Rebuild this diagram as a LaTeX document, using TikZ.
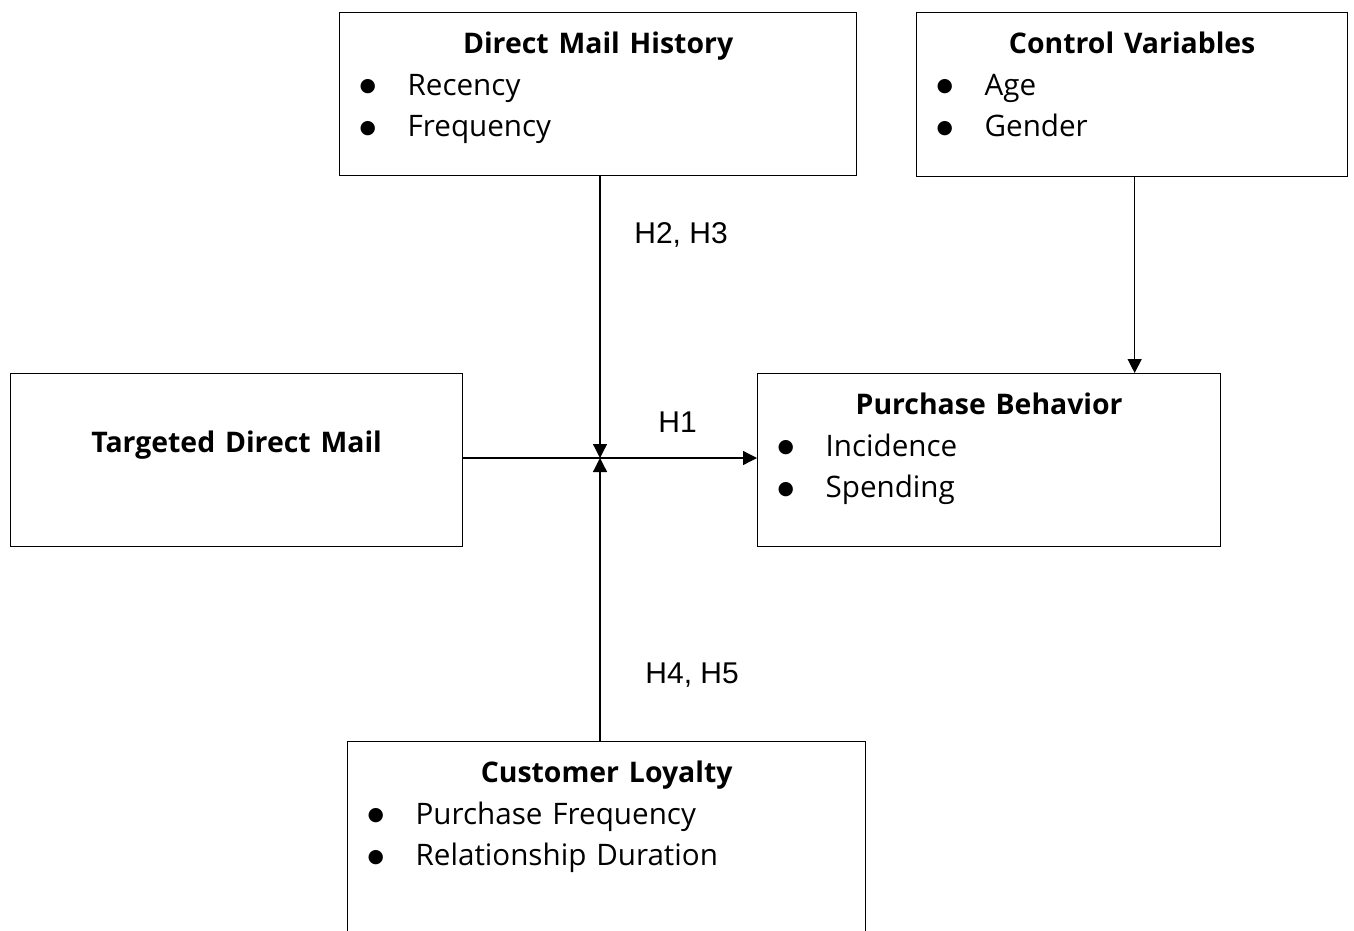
\documentclass[tikz,border=0pt]{standalone}
\usepackage{fontspec}
\setmainfont{Open Sans}
\newfontfamily\hypfont{Liberation Sans}
\newfontfamily\symfont{DejaVu Sans}
\usetikzlibrary{arrows.meta, positioning, calc}

% bullet, then the item text starts 34pt in from the box edge
\newcommand{\blt}{\makebox[34pt][l]{\hspace{10pt}\raisebox{1.7pt}{\symfont\fontsize{9.4pt}{9.4pt}\selectfont ●}}}
\newcommand{\ttl}[1]{{\centering\fontsize{14.2pt}{20.75pt}\selectfont\bfseries #1\par}}

\begin{document}
\begin{tikzpicture}[
  x=0.5pt, y=-0.5pt,
  font=\fontsize{14.8pt}{20.75pt}\selectfont,
  >={Triangle[length=7pt, width=7pt]},
  box/.style={draw, line width=0.65pt, inner sep=0pt, align=left, anchor=north west, text height=20.5pt},
  lbl/.style={font=\hypfont\fontsize{15pt}{16pt}\selectfont, inner sep=0pt, anchor=base west},
  arr/.style={->, line width=0.65pt},
]
\useasboundingbox (0,0) rectangle (1354,931);

\node[box, text width=258.5pt, text depth=61pt] (dmh) at (339,12)
  {\ttl{Direct Mail History}\blt Recency\par\blt Frequency};
\node[box, text width=215.5pt, text depth=61.5pt] (cv) at (916,12)
  {\ttl{Control Variables}\blt Age\par\blt Gender};
\node[box, text width=226pt, text height=39.5pt, text depth=47pt] (tdm) at (10,373)
  {\ttl{Targeted Direct Mail}};
\node[box, text width=231.5pt, text depth=66pt] (pb) at (757,373)
  {\ttl{Purchase Behavior}\blt Incidence\par\blt Spending};
\node[box, text width=259pt, text depth=80pt] (cl) at (347,741)
  {\ttl{Customer Loyalty}\blt Purchase Frequency\par\blt Relationship Duration};

\node[lbl] (h23) at (634,243) {H2, H3};
\node[lbl] (h1) at (658,432) {H1};
\node[lbl] (h45) at (645,683) {H4, H5};

\coordinate (hub) at (600,458);
\draw[arr] (dmh.south -| hub) -- (hub);
\draw[arr] (cl.north -| hub) -- (hub);
\draw[arr] (tdm.east |- hub) -- (pb.west |- hub);
\draw[arr] ([xshift=1.25pt]cv.south) -- ([xshift=1.25pt]cv.south |- pb.north);
\end{tikzpicture}
\end{document}
